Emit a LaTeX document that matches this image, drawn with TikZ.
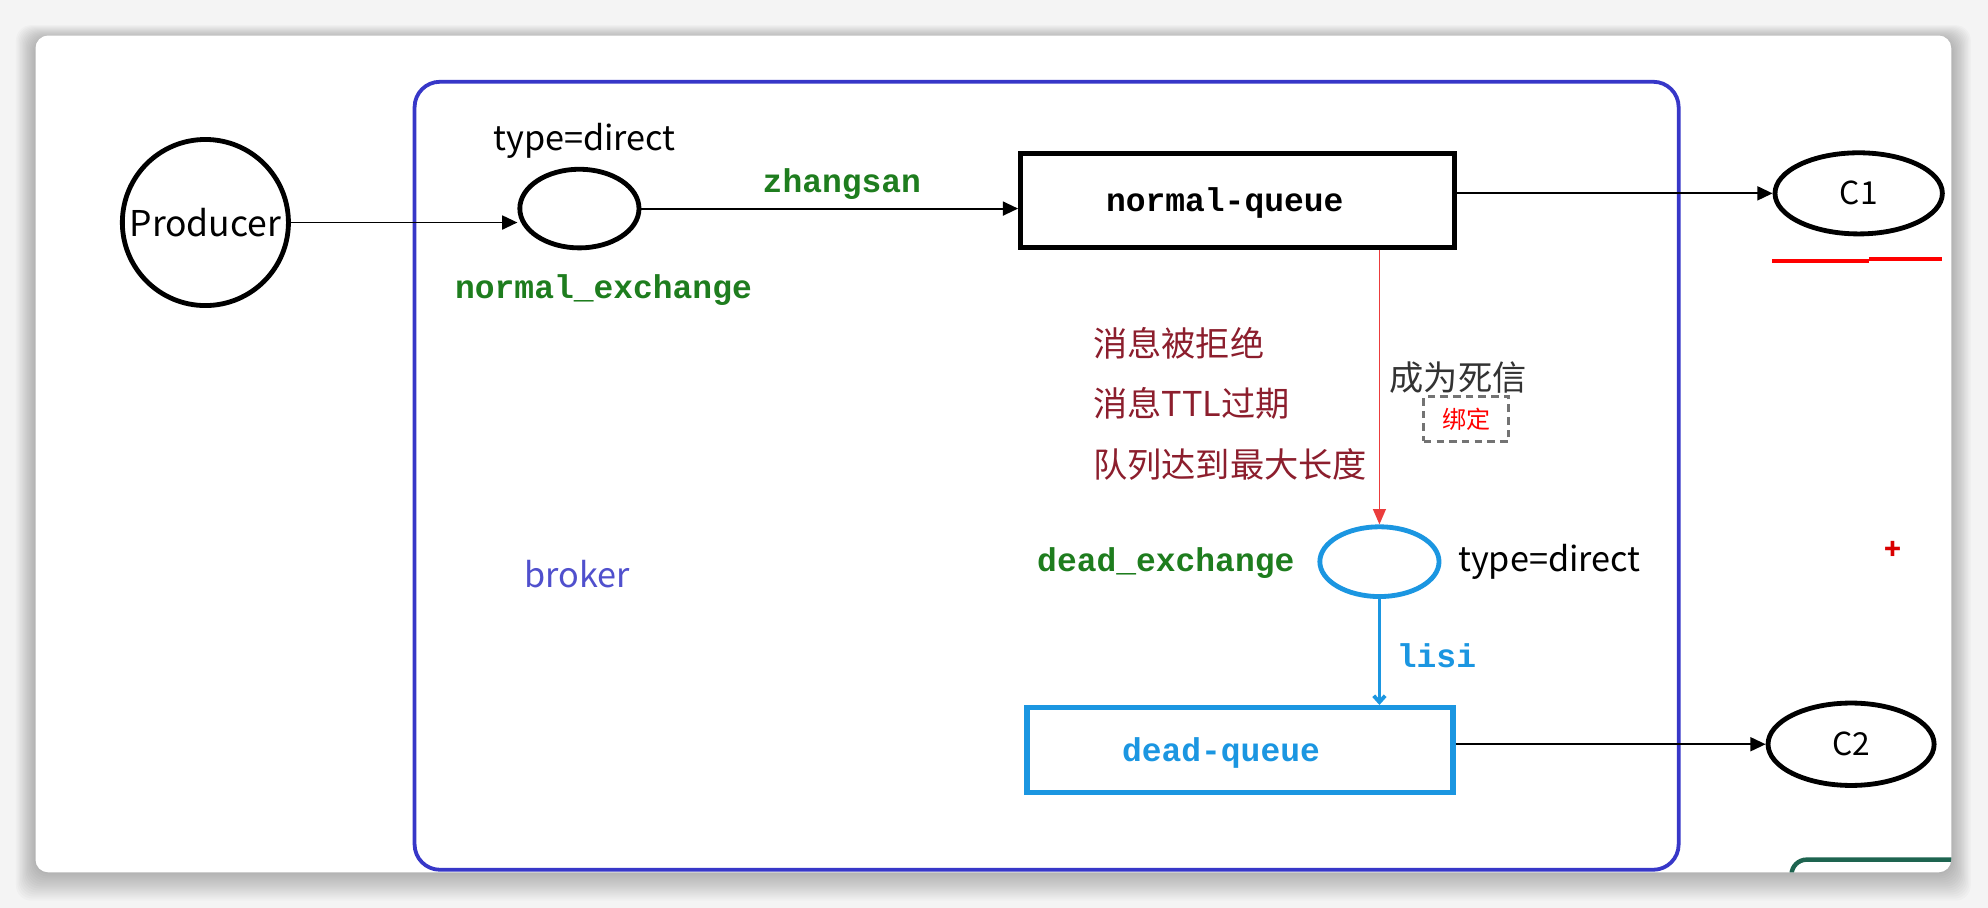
\documentclass[tikz,border=0pt]{standalone}
\usepackage{fontspec}
\setmainfont{Noto Sans CJK SC}
\newfontfamily\cjk{Noto Sans CJK SC}
\newfontfamily\mono{Liberation Mono}
\usetikzlibrary{arrows.meta,shapes.geometric,calc}
\definecolor{grn}{RGB}{30,125,30}
\definecolor{frameblue}{RGB}{55,55,200}
\definecolor{brokerblue}{RGB}{80,80,205}
\definecolor{skyblue}{RGB}{27,150,225}
\definecolor{darkred}{RGB}{140,30,45}
\definecolor{arrred}{RGB}{235,60,60}
\definecolor{dkgreen}{RGB}{30,100,80}
\definecolor{bggray}{RGB}{244,244,244}
\begin{document}
\begin{tikzpicture}[x=1pt,y=-1pt,
  sans/.style={font=\cjk\fontsize{27}{30}\selectfont, inner sep=0},
  monob/.style={font=\mono\bfseries\fontsize{26}{28}\selectfont, inner sep=0},
  cn/.style={font=\cjk\fontsize{27}{30}\selectfont, inner sep=0},
  ell/.style={ellipse, draw=black, line width=3.8pt, inner sep=0},
  qbox/.style={rectangle, line width=4pt, inner sep=0},
  arr/.style={-{Triangle[length=12pt,width=11pt]}, line width=1.5pt},
  redarr/.style={draw=arrred, -{Triangle[length=12pt,width=10pt]}, line width=1.4pt},
  bluearr/.style={draw=skyblue, -{Straight Barb[length=5pt,width=9pt]}, line width=3pt}
]
\useasboundingbox (0,0) rectangle (1568,716);
% background and card
\fill[bggray] (0,0) rectangle (1568,716);
\foreach \i in {1,...,14}{
  \fill[black, opacity=0.018, rounded corners=12pt]
    (28-\i*1.1, 28-\i*0.8+3) rectangle (1539+\i*1.1, 688+\i*1.6);
}
\fill[white, rounded corners=10pt] (28,28) rectangle (1539,688);
% green partial element at bottom right
\begin{scope}
  \clip[rounded corners=10pt] (28,28) rectangle (1539,688);
  \draw[dkgreen, line width=3.5pt, rounded corners=12pt] (1413,700) -- (1413,678) -- (1560,678);
\end{scope}
% broker frame
\draw[frameblue, line width=3pt, rounded corners=20pt] (327,64.5) rectangle (1324,686);
\node[font=\cjk\fontsize{27}{30}\selectfont, text=brokerblue, inner sep=0] (broker) at (455,453) {broker};

% nodes
\node[ell, minimum width=131pt, minimum height=131pt,
      label={[font=\cjk\fontsize{28}{30}\selectfont, inner sep=0]center:Producer}] (producer) at (162,175.5) {};
\node[ell, minimum width=94pt, minimum height=62pt] (nex) at (457,164.5) {};
\node[sans] (t1) at (461,111) {type=direct};
\node[monob, text=grn] (nexl) at (476,229) {normal\_exchange};
\node[qbox, draw=black, minimum width=342pt, minimum height=74pt] (nq) at (976,158) {};
\node[monob] (nql) at (966,160) {normal-queue};
\node[ell, minimum width=132pt, minimum height=64pt, font=\cjk\fontsize{25}{28}\selectfont] (c1) at (1466,152.5) {C1};
\node[ell, draw=skyblue, minimum width=94pt, minimum height=55pt] (dex) at (1088,443) {};
\node[monob, text=grn] (dexl) at (919.5,444) {dead\_exchange};
\node[sans] (t2) at (1222,443) {type=direct};
\node[qbox, draw=skyblue, minimum width=336pt, minimum height=67pt] (dq) at (978,591.5) {};
\node[monob, text=skyblue] (dql) at (963,594) {dead-queue};
\node[ell, minimum width=131pt, minimum height=65pt, font=\cjk\fontsize{25}{28}\selectfont] (c2) at (1460,587) {C2};

% connectors
\draw[arr] (producer.east) -- (producer.east -| nex.west);
\draw[arr] (nex.east) -- (nex.east -| nq.west);
\node[monob, text=grn] (zs) at (664,145) {zhangsan};
\draw[arr] (c1.west -| nq.east) -- (c1.west);
\draw[redarr] (nq.south -| dex.north) -- (dex.north);
\draw[bluearr] (dex.south) -- (dex.south |- dq.north);
\node[monob, text=skyblue] (lisi) at (1133,517) {lisi};
\draw[arr] (c2.west -| dq.east) -- (c2.west);

% reasons
\node[cn, text=darkred, anchor=west] (r1) at (862,271) {消息被拒绝};
\node[cn, text=darkred, anchor=west] (r2) at (862,318) {消息TTL过期};
\node[cn, text=darkred, anchor=west] (r3) at (862,366) {队列达到最大长度};
\node[cn, text=black!80] (dead) at (1150,298) {成为死信};
\node[draw=black!55, dashed, dash pattern=on 6pt off 4pt, line width=2.4pt, minimum width=67pt, minimum height=35pt, inner sep=0, font=\cjk\fontsize{19}{22}\selectfont, text=red] (bind) at (1156.5,330.5) {绑定};

% annotations
\draw[red, line width=3.2pt] (1398,206) -- (1474,206);
\draw[red, line width=3.2pt] (1474,204.5) -- (1532,204.5);
\node[text=red!85!black, font=\cjk\bfseries\fontsize{22}{24}\selectfont, inner sep=0] (plus) at (1493,434.5) {+};
\end{tikzpicture}
\end{document}
